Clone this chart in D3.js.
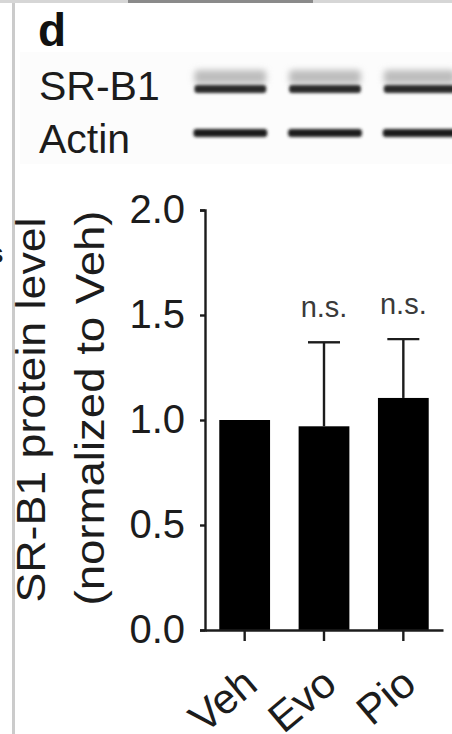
<!DOCTYPE html>
<html>
<head>
<meta charset="utf-8">
<script src="https://cdn.jsdelivr.net/npm/d3@7"></script>
<style>
  html, body { margin: 0; padding: 0; background: #fff; }
  svg { display: block; font-family: "Liberation Sans", Arial, Helvetica, sans-serif; }
</style>
</head>
<body>
<svg id="chart" width="452" height="734"></svg>
<script>
// ---- data ----
const categories = ["Veh", "Evo", "Pio"];
const means = [1.00, 0.97, 1.105];
const errors = [0, 0.40, 0.28];
const significance = ["", "n.s.", "n.s."];
const yTicks = [0.0, 0.5, 1.0, 1.5, 2.0];
const blotRows = ["SR-B1", "Actin"];
const panelLetter = "d";
const yTitleLines = ["SR-B1 protein level", "(normalized to Veh)"];

const svg = d3.select("#chart");
const ink = "#1c1c1c";

// defs: blur for blot bands
const defs = svg.append("defs");
defs.append("filter").attr("id", "blur").attr("x", "-20%").attr("y", "-100%").attr("width", "140%").attr("height", "300%")
  .append("feGaussianBlur").attr("stdDeviation", 1.8);
defs.append("filter").attr("id", "blur2").attr("x", "-20%").attr("y", "-100%").attr("width", "140%").attr("height", "300%")
  .append("feGaussianBlur").attr("stdDeviation", 3.2);

// page frame remnants
svg.append("rect").attr("x", 0).attr("y", 0).attr("width", 452).attr("height", 3).attr("fill", "#d6d6d6");
svg.append("rect").attr("x", 128).attr("y", 0).attr("width", 185).attr("height", 3).attr("fill", "#8a8a8a");
svg.append("rect").attr("x", 12).attr("y", 3).attr("width", 3).attr("height", 731).attr("fill", "#cbcbcb");

// cut-off neighbour text
svg.append("text").attr("x", -12).attr("y", 263).attr("font-size", 28).attr("font-weight", "bold")
  .attr("fill", ink).text("s");

// faint blot background
svg.append("rect").attr("x", 20).attr("y", 52).attr("width", 432).attr("height", 112).attr("fill", "#fcfcfc");

// panel letter
svg.append("text").attr("x", 38).attr("y", 46).attr("font-size", 46).attr("font-weight", "bold")
  .attr("fill", "#111").text(panelLetter);

// blot row labels
const rowBaselines = [100, 153];
svg.selectAll("text.row").data(blotRows).join("text").attr("class", "row")
  .attr("x", 39).attr("y", (d, i) => rowBaselines[i])
  .attr("font-size", 41).attr("fill", ink).text(d => d);

// blot lanes
const lane = d3.scaleBand().domain(categories).range([183, 467]).paddingInner(0.22).paddingOuter(0.11);
const g = svg.append("g");
categories.forEach(c => {
  const x0 = lane(c), w = lane.bandwidth();
  // SR-B1 diffuse upper band
  g.append("rect").attr("x", x0 + 1).attr("y", 70).attr("width", w - 2).attr("height", 14)
    .attr("rx", 4).attr("fill", "#bdbdbd").attr("filter", "url(#blur2)");
  // SR-B1 dark core
  g.append("rect").attr("x", x0 + 1).attr("y", 85).attr("width", w - 2).attr("height", 8)
    .attr("rx", 3).attr("fill", "#2a2a2a").attr("filter", "url(#blur)");
  // Actin band
  g.append("rect").attr("x", x0).attr("y", 129).attr("width", w).attr("height", 8)
    .attr("rx", 3).attr("fill", "#1e1e1e").attr("filter", "url(#blur)");
});

// ---- bar chart ----
const y = d3.scaleLinear().domain([0, 2]).range([630, 210]);
const x = d3.scaleBand().domain(categories).range([205, 443]).paddingInner(0.36).paddingOuter(0.18);

// bars
svg.selectAll("rect.bar").data(categories).join("rect").attr("class", "bar")
  .attr("x", d => x(d)).attr("width", x.bandwidth())
  .attr("y", (d, i) => y(means[i])).attr("height", (d, i) => y(0) - y(means[i]))
  .attr("fill", "#000");

// error bars (upper only)
const eb = svg.append("g").attr("stroke", ink).attr("stroke-width", 2.4).attr("fill", "none");
categories.forEach((c, i) => {
  if (!errors[i]) return;
  const cx = x(c) + x.bandwidth() / 2;
  eb.append("line").attr("x1", cx).attr("x2", cx).attr("y1", y(means[i])).attr("y2", y(means[i] + errors[i]));
  eb.append("line").attr("x1", cx - 16).attr("x2", cx + 16).attr("y1", y(means[i] + errors[i])).attr("y2", y(means[i] + errors[i]));
});

// significance labels
svg.selectAll("text.sig").data(categories).join("text").attr("class", "sig")
  .attr("x", d => x(d) + x.bandwidth() / 2)
  .attr("y", (d, i) => y(means[i] + errors[i]) - 25)
  .attr("text-anchor", "middle").attr("font-size", 29).attr("fill", "#3a3a3a")
  .text((d, i) => significance[i]);

// y axis
const yAxis = svg.append("g").attr("transform", "translate(205,0)")
  .call(d3.axisLeft(y).tickValues(yTicks).tickFormat(d3.format(".1f")).tickSize(5).tickSizeOuter(5).tickPadding(15));
yAxis.selectAll("path, line").attr("stroke", ink).attr("stroke-width", 2.4);
yAxis.selectAll("text").attr("font-size", 40).attr("fill", ink).attr("font-family", "Liberation Sans, Arial, sans-serif");

// x axis
const xAxis = svg.append("g").attr("transform", "translate(0,630)")
  .call(d3.axisBottom(x).tickSize(11).tickSizeOuter(0).tickFormat(""));
xAxis.selectAll("path, line").attr("stroke", ink).attr("stroke-width", 2.4);

// x labels rotated
svg.selectAll("text.xl").data(categories).join("text").attr("class", "xl")
  .attr("transform", d => `translate(${x(d) + x.bandwidth() / 2 + 15},688) rotate(-40)`)
  .attr("text-anchor", "end").attr("font-size", 42).attr("fill", ink).text(d => d);

// y title
const titleLens = [385, 395];
const titleX = [45, 104];
svg.selectAll("text.yt").data(yTitleLines).join("text").attr("class", "yt")
  .attr("transform", (d, i) => `translate(${titleX[i]},${410 - i * 2}) rotate(-90)`)
  .attr("text-anchor", "middle").attr("font-size", 40).attr("fill", ink)
  .attr("textLength", (d, i) => titleLens[i]).attr("lengthAdjust", "spacingAndGlyphs")
  .text(d => d);
</script>
</body>
</html>
